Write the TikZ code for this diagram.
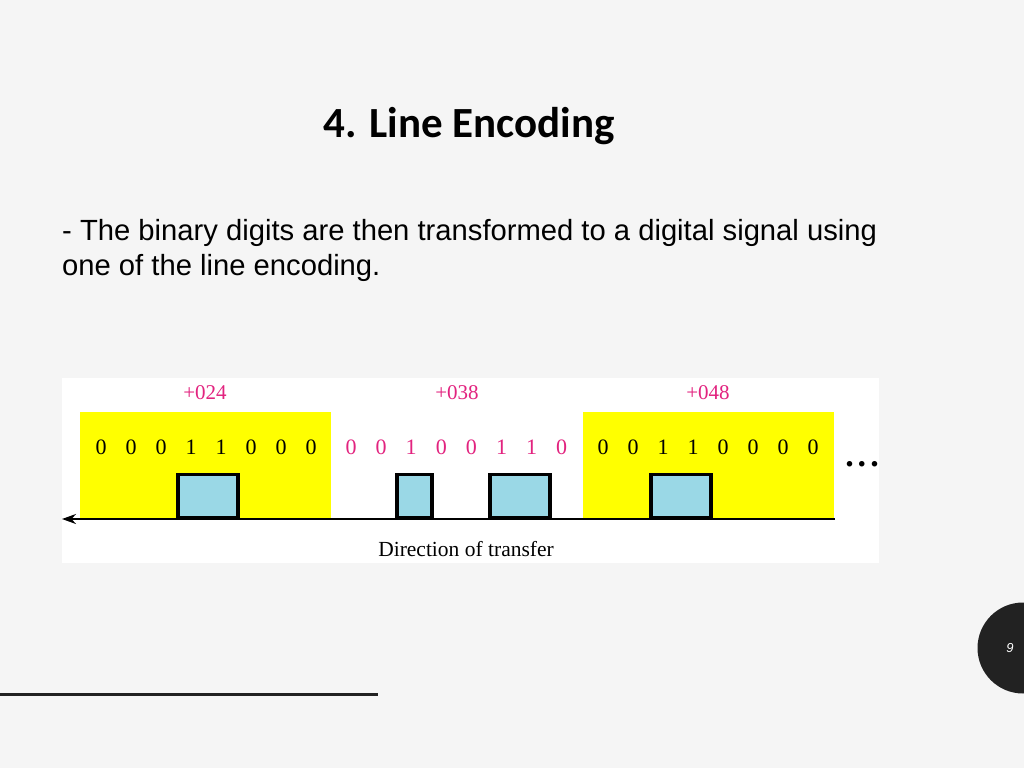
\documentclass[tikz,border=0pt]{standalone}
\usepackage{fontspec}
\setmainfont{Liberation Serif}
\newfontfamily\titlefont{Carlito}
\newfontfamily\bodyfont{Liberation Sans}
\usetikzlibrary{positioning,arrows.meta}
\definecolor{slidebg}{HTML}{F5F5F5}
\definecolor{hexpink}{HTML}{E2237F}
\definecolor{pulseblue}{HTML}{9AD8E6}
\definecolor{darkmark}{HTML}{222222}
\definecolor{byteyellow}{HTML}{FFFF00}
\tikzstyle{bytebox} = [fill=byteyellow, inner sep=0pt, minimum width=251pt, minimum height=107pt, anchor=north west]
\tikzstyle{pulse} = [draw=black, line width=3.5pt, fill=pulseblue, inner sep=0pt, minimum height=43pt, anchor=south west]
\tikzstyle{bit} = [font=\fontsize{22}{26}\selectfont, inner sep=0pt]
\tikzstyle{hexlabel} = [text=hexpink, font=\fontsize{21}{24}\selectfont, inner sep=0pt]
\tikzstyle{wire} = [line width=2pt, -{Stealth[length=14pt,width=10pt]}]

\begin{document}
\begin{tikzpicture}[x=1pt,y=-1pt]
	\useasboundingbox[fill=slidebg] (0,0) rectangle (1024,768);
	\node[anchor=base, font=\titlefont\bfseries\fontsize{43}{48}\selectfont] (title) at (469,137) {4. Line Encoding};
	\node[anchor=base west, inner sep=0pt, font=\bodyfont\fontsize{29.2}{32}\selectfont] (line1) at (62,240) {- The binary digits are then transformed to a digital signal using};
	\node[anchor=base west, inner sep=0pt, font=\bodyfont\fontsize{29.2}{32}\selectfont] (line2) at ([yshift=-35pt]line1.base west) {one of the line encoding.};
	\fill[white] (62,378) rectangle (879,563);
	\node[bytebox] (byteA) at (80,412) {};
	\node[bytebox] (byteC) at (583,412) {};
	\coordinate (wirestart) at (835,519);
	\coordinate (wireend) at (62,519);
	\draw[wire] (wirestart) -- (wireend);
	\node[pulse, minimum width=60pt] (pulseA) at (176,519) {};
	\node[pulse, minimum width=35pt] (pulseB) at (395,519) {};
	\node[pulse, minimum width=60pt] (pulseC) at (488,519) {};
	\node[pulse, minimum width=60pt] (pulseD) at (649,519) {};
	\foreach \b [count=\i from 0] in {0,0,0,1,1,0,0,0}
		\node[bit] (bitA\i) at (101+30*\i,447) {\b};
	\foreach \b [count=\i from 0] in {0,0,1,0,0,1,1,0}
		\node[bit, text=hexpink] (bitB\i) at (351+30.1*\i,447) {\b};
	\foreach \b [count=\i from 0] in {0,0,1,1,0,0,0,0}
		\node[bit] (bitC\i) at (603+30*\i,447) {\b};
	\node[hexlabel] (hexA) at (205,393) {+024};
	\node[hexlabel] (hexB) at (457,393) {+038};
	\node[hexlabel] (hexC) at (708,393) {+048};
	\node[bit, font=\fontsize{21.5}{26}\selectfont] (dirlabel) at (466,549) {Direction of transfer};
	\node[inner sep=0pt, font=\bfseries\fontsize{34}{34}\selectfont] (more) at (862,464) {.\hspace{4pt}.\hspace{4pt}.};
	\begin{scope}
		\clip (0,0) rectangle (1024,768);
		\node[circle, fill=darkmark, minimum size=91pt, inner sep=0pt] (pagedot) at (1023,648) {};
	\end{scope}
	\node[text=white, inner sep=0pt, font=\bodyfont\itshape\fontsize{13}{13}\selectfont] (pageno) at (1010,648) {9};
	\coordinate (rulestart) at (0,694);
	\coordinate (ruleend) at (378,694);
	\draw[darkmark, line width=3pt] (rulestart) -- (ruleend);
\end{tikzpicture}
\end{document}
